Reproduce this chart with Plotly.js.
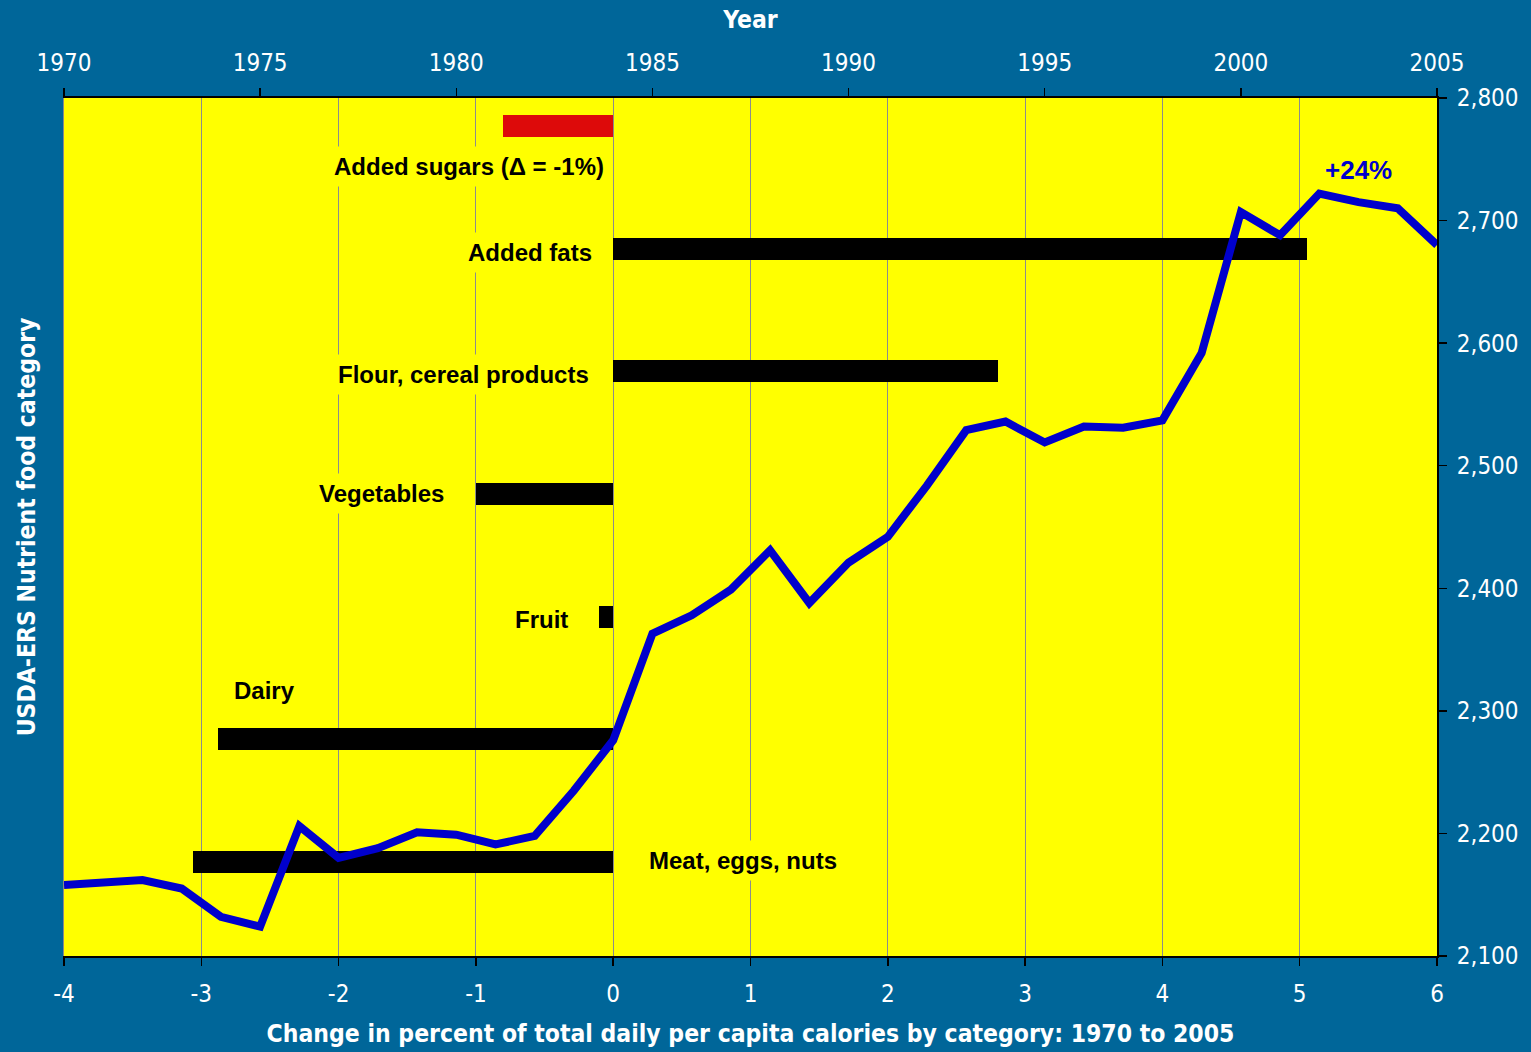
<!DOCTYPE html>
<html>
<head>
<meta charset="utf-8">
<script src="https://cdn.plot.ly/plotly-3.0.1.min.js"></script>
<style>
  html, body { margin: 0; padding: 0; background: #006699; }
  #chart { width: 1531px; height: 1052px; }
</style>
</head>
<body>
<div id="chart"></div>
<script>
// Food categories, bottom to top, with change in share of daily calories (percentage points)
const categories = ["Meat, eggs, nuts", "Dairy", "Fruit", "Vegetables", "Flour, cereal products", "Added fats", "Added sugars"];
const changes = [-3.06, -2.88, -0.1, -1.0, 2.8, 5.05, -0.8];
const barColors = ["#000000", "#000000", "#000000", "#000000", "#000000", "#000000", "#DD0A0A"];

// Per capita daily calories, 1970-2005
const years = [1970, 1971, 1972, 1973, 1974, 1975, 1976, 1977, 1978, 1979,
               1980, 1981, 1982, 1983, 1984, 1985, 1986, 1987, 1988, 1989,
               1990, 1991, 1992, 1993, 1994, 1995, 1996, 1997, 1998, 1999,
               2000, 2001, 2002, 2003, 2004, 2005];
const calories = [2158, 2160, 2162, 2155, 2132, 2124, 2206, 2180, 2188, 2201,
                  2199, 2191, 2198, 2235, 2276, 2363, 2378, 2399, 2431, 2388,
                  2421, 2442, 2484, 2529, 2536, 2519, 2532, 2531, 2537, 2592,
                  2707, 2688, 2722, 2715, 2710, 2680];

// Bottom axis tick labels (plain hyphen for negatives)
const changeTicks = [-4, -3, -2, -1, 0, 1, 2, 3, 4, 5, 6];
const changeTickText = ["-4", "-3", "-2", "-1", "0", "1", "2", "3", "4", "5", "6"];

const fontFamily = "DejaVu Sans Condensed, DejaVu Sans, sans-serif";
const tickFont = { family: fontFamily, size: 24, color: "#ffffff" };
const titleFont = { family: fontFamily, size: 24.5, color: "#ffffff", weight: "bold" };
const labelFont = { family: "Liberation Sans, Arial, sans-serif", size: 24, color: "#000000", weight: "bold" };

const bars = {
  type: "bar",
  orientation: "h",
  y: categories,
  x: changes,
  width: 0.18,
  marker: { color: barColors },
  xaxis: "x",
  yaxis: "y",
  hoverinfo: "x+y",
  showlegend: false
};

const line = {
  type: "scatter",
  mode: "lines",
  x: years,
  y: calories,
  line: { color: "#0000CC", width: 8 },
  xaxis: "x2",
  yaxis: "y2",
  showlegend: false
};

// Category labels beside their bars
const labels = [
  { text: "Added sugars (Δ = -1%)", x: -1.05, y: 5.666, xanchor: "center" },
  { text: "Added fats", x: -0.10, y: 4.965, xanchor: "right" },
  { text: "Flour, cereal products", x: -0.124, y: 3.978, xanchor: "right" },
  { text: "Vegetables", x: -1.18, y: 3.008, xanchor: "right" },
  { text: "Fruit", x: -0.277, y: 1.973, xanchor: "right" },
  { text: "Dairy", x: -2.81, y: 1.40, xanchor: "left" },
  { text: "Meat, eggs, nuts", x: 0.211, y: 0.016, xanchor: "left" }
];

const annotations = labels.map(l => ({
  text: l.text,
  x: l.x, y: l.y,
  xref: "x", yref: "y",
  xanchor: l.xanchor, yanchor: "middle",
  showarrow: false,
  font: labelFont,
  bgcolor: "#FFFF00",
  borderpad: 6
}));

annotations.push({
  text: "+24%",
  x: 2003, y: 2741,
  xref: "x2", yref: "y2",
  xanchor: "center", yanchor: "middle",
  showarrow: false,
  font: { family: "Liberation Sans, Arial, sans-serif", size: 26, color: "#0000CC", weight: "bold" }
});

const layout = {
  width: 1531,
  height: 1052,
  paper_bgcolor: "#006699",
  plot_bgcolor: "#FFFF00",
  margin: { l: 64, r: 94, t: 98, b: 96 },
  showlegend: false,
  bargap: 0,
  xaxis: {
    range: [-4, 6],
    tickmode: "array",
    tickvals: changeTicks,
    ticktext: changeTickText,
    showgrid: true,
    gridcolor: "#8c8c8c",
    gridwidth: 1,
    zeroline: false,
    showline: true,
    linecolor: "#000000",
    linewidth: 2,
    ticks: "outside",
    ticklen: 8,
    tickcolor: "#000000",
    tickwidth: 1.5,
    ticklabelstandoff: 7,
    tickfont: tickFont,
    title: { text: "Change in percent of total daily per capita calories by category: 1970 to 2005", font: titleFont, standoff: 18 }
  },
  xaxis2: {
    overlaying: "x",
    side: "top",
    anchor: "y2",
    range: [1970, 2005],
    dtick: 5,
    tick0: 1970,
    showgrid: false,
    zeroline: false,
    showline: true,
    linecolor: "#000000",
    linewidth: 2,
    ticks: "outside",
    ticklen: 8,
    tickcolor: "#000000",
    tickwidth: 1.5,
    ticklabelstandoff: 7,
    tickfont: tickFont,
    title: { text: "Year", font: titleFont, standoff: 14 }
  },
  yaxis: {
    type: "category",
    categoryorder: "array",
    categoryarray: categories,
    range: [-0.766, 6.228],
    showticklabels: false,
    showgrid: false,
    zeroline: false,
    showline: true,
    linecolor: "#8a8a8a",
    linewidth: 1,
    ticks: "",
    title: { text: "USDA-ERS Nutrient food category", font: titleFont, standoff: 20 }
  },
  yaxis2: {
    overlaying: "y",
    side: "right",
    anchor: "x2",
    range: [2100, 2800],
    dtick: 100,
    tick0: 2100,
    tickformat: ",",
    showgrid: false,
    zeroline: false,
    showline: true,
    linecolor: "#000000",
    linewidth: 2,
    ticks: "outside",
    ticklen: 8,
    tickcolor: "#000000",
    tickwidth: 1.5,
    ticklabelstandoff: 5,
    tickfont: tickFont
  },
  annotations: annotations
};

Plotly.newPlot("chart", [bars, line], layout, { displayModeBar: false, staticPlot: true });
</script>
</body>
</html>
